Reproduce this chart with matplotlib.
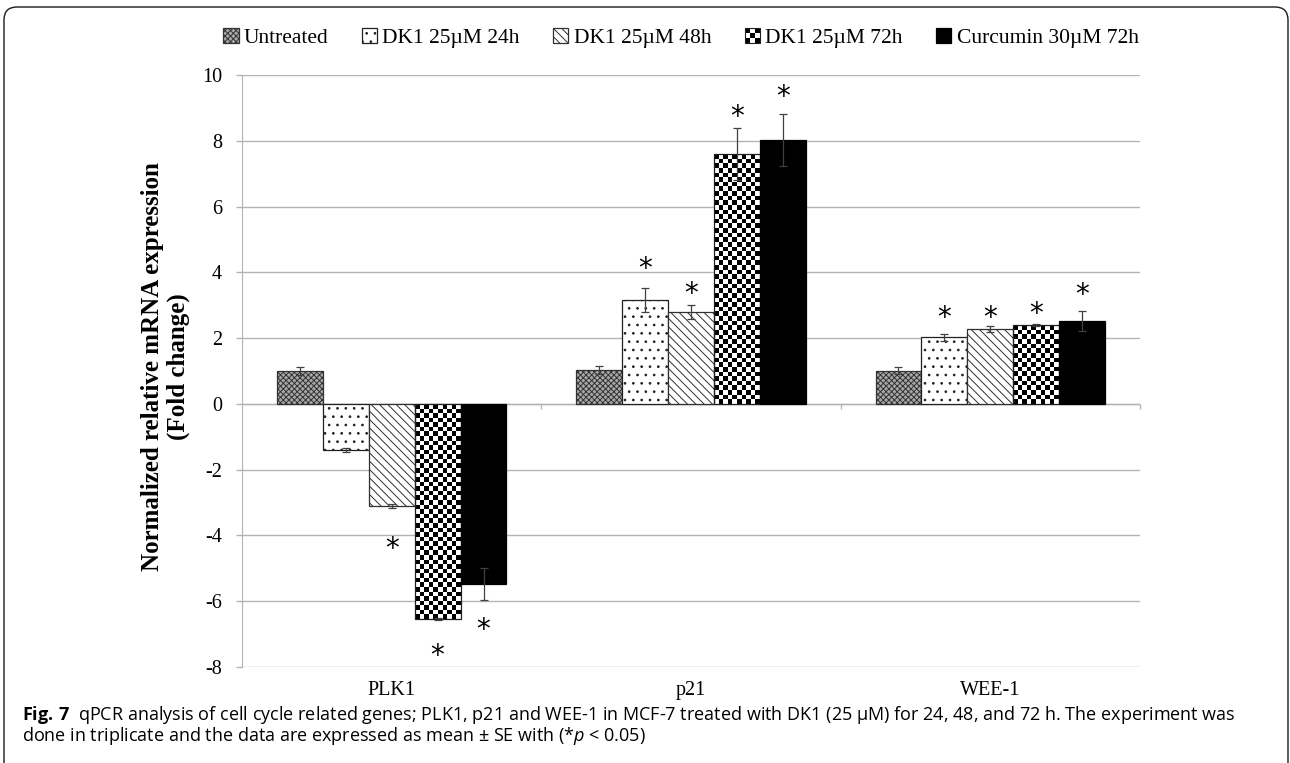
"""qPCR fold change of cell cycle genes (PLK1, p21, WEE-1) after DK1 treatment."""

import matplotlib.pyplot as plt
import numpy as np
from matplotlib.legend_handler import HandlerBase
from matplotlib.patches import FancyBboxPatch, Rectangle

plt.rcParams["font.family"] = ["Liberation Serif", "DejaVu Serif"]
plt.rcParams["hatch.linewidth"] = 0.7
plt.rcParams["mathtext.fontset"] = "custom"
plt.rcParams["mathtext.rm"] = "Open Sans"
plt.rcParams["mathtext.it"] = "Open Sans:italic"
plt.rcParams["mathtext.bf"] = "Open Sans:bold"

# data
genes = ["PLK1", "p21", "WEE-1"]
treatments = [
    "Untreated",
    "DK1 25µM 24h",
    "DK1 25µM 48h",
    "DK1 25µM 72h",
    "Curcumin 30µM 72h",
]

untreated = [1.00, 1.02, 1.01]
dk1_24h = [-1.40, 3.15, 2.02]
dk1_48h = [-3.10, 2.80, 2.27]
dk1_72h = [-6.53, 7.60, 2.40]
curcumin_72h = [-5.48, 8.02, 2.51]

untreated_se = [0.12, 0.12, 0.11]
dk1_24h_se = [0.07, 0.37, 0.11]
dk1_48h_se = [0.07, 0.22, 0.09]
dk1_72h_se = [0.03, 0.79, 0.03]
curcumin_72h_se = [0.49, 0.80, 0.30]

# where the significance asterisks sit (None = no asterisk)
untreated_star = [None, None, None]
dk1_24h_star = [None, 4.28, 2.77]
dk1_48h_star = [-4.24, 3.52, 2.77]
dk1_72h_star = [-7.50, 8.88, 2.91]
curcumin_72h_star = [-6.70, 9.49, 3.47]

y_ticks = [-8, -6, -4, -2, 0, 2, 4, 6, 8, 10]

caption_line1 = (r"$\mathbf{Fig.\,7}$  qPCR analysis of cell cycle related genes; PLK1, p21 and "
                 "WEE-1 in MCF-7 treated with DK1 (25 µM) for 24, 48, and 72 h. The experiment was")
caption_line2 = r"done in triplicate and the data are expressed as mean ± SE with (*$\mathit{p}$ < 0.05)"

series = [untreated, dk1_24h, dk1_48h, dk1_72h, curcumin_72h]
errors = [untreated_se, dk1_24h_se, dk1_48h_se, dk1_72h_se, curcumin_72h_se]
stars = [untreated_star, dk1_24h_star, dk1_48h_star, dk1_72h_star, curcumin_72h_star]

styles = [
    dict(facecolor="#a8a8a8", edgecolor="#333333", hatch="xxxxxx"),
    dict(facecolor="white", edgecolor="#202020", hatch=".."),
    dict(facecolor="white", edgecolor="#303030", hatch="\\\\\\\\"),
    dict(facecolor="none", edgecolor="#202020", hatch=None),  # checkerboard, drawn below
    dict(facecolor="black", edgecolor="black", hatch=None),
]
CHECKER = 3

GRID = "#b4b4b4"


class CheckerHandler(HandlerBase):
    """Small checkerboard square for the legend."""

    def create_artists(self, legend, orig_handle, xdescent, ydescent, width, height, fontsize, trans):
        side = min(width, height)
        x0 = -xdescent + (width - side) / 2
        y0 = -ydescent + (height - side) / 2
        n = 3
        cell = side / n
        artists = []
        for i in range(n):
            for j in range(n):
                color = "black" if (i + j) % 2 == 0 else "white"
                artists.append(Rectangle((x0 + j * cell, y0 + i * cell), cell, cell,
                                         facecolor=color, edgecolor="none", transform=trans))
        artists.append(Rectangle((x0, y0), side, side, facecolor="none",
                                 edgecolor="#202020", lw=0.8, transform=trans))
        return artists


def fill_checker(ax, bar, cell_px=4.6):
    """Paint a black/white checkerboard inside a bar."""
    x0, y0 = bar.get_x(), bar.get_y()
    w, h = bar.get_width(), bar.get_height()
    (px0, py0), (px1, py1) = ax.transData.transform([(x0, y0), (x0 + w, y0 + h)])
    nx = max(1, round(abs(px1 - px0) / cell_px))
    ny = max(1, round(abs(py1 - py0) / cell_px))
    board = np.indices((ny, nx)).sum(axis=0) % 2
    ax.imshow(board, cmap="gray", interpolation="nearest", aspect="auto",
              extent=(x0, x0 + w, y0, y0 + h), zorder=2.5)


fig = plt.figure(figsize=(12.9, 7.63), dpi=100)
ax = fig.add_axes([242 / 1290, 1 - 667 / 763, 898 / 1290, 592 / 763])

x = np.arange(len(genes))
n = len(series)
group = 0.767
width = group / n
ax.set_xlim(-0.5, len(genes) - 0.5)
ax.set_ylim(y_ticks[0], y_ticks[-1])

handles = []
for k, (vals, errs, style) in enumerate(zip(series, errors, styles)):
    offs = x - group / 2 + width * (k + 0.5)
    bars = ax.bar(offs, vals, width, linewidth=0.9, zorder=3, **style)
    ax.errorbar(offs, vals, yerr=errs, fmt="none", ecolor="#404040", elinewidth=0.9,
                capsize=2.6, capthick=0.9, zorder=4)
    if k == CHECKER:
        for b in bars:
            fill_checker(ax, b)
    handles.append(bars.patches[0])

ax.set_xlim(-0.5, len(genes) - 0.5)
ax.set_ylim(y_ticks[0], y_ticks[-1])

for k, star_vals in enumerate(stars):
    offs = x - group / 2 + width * (k + 0.5)
    for xo, sy in zip(offs, star_vals):
        if sy is not None:
            ax.annotate("*", (xo, sy), xytext=(0, -4), textcoords="offset points",
                        ha="center", va="center", fontsize=20, family="DejaVu Sans", zorder=5)

# axes styling, Excel-like
ax.set_yticks(y_ticks)
ax.set_yticklabels([str(v) for v in y_ticks])
ax.yaxis.grid(True, color=GRID, lw=1)
ax.set_axisbelow(True)
for side in ("top", "right", "bottom"):
    ax.spines[side].set_visible(False)
ax.spines["left"].set_color(GRID)
ax.tick_params(axis="y", length=4.3, width=1, color=GRID, pad=10, labelsize=14.5)
ax.set_xticks(x)
ax.set_xticklabels(genes)
ax.tick_params(axis="x", length=0, pad=10, labelsize=14.5)

ax.axhline(0, color=GRID, lw=1, zorder=2)
bounds = np.arange(len(genes) + 1) - 0.5
ax.vlines(bounds[1:], -0.15, 0, color=GRID, lw=1, zorder=2, clip_on=False)

ax.set_ylabel("Normalized relative mRNA expression\n(Fold change)", fontsize=18,
              fontweight="bold", linespacing=1.15)
ax.yaxis.set_label_coords(-0.058, 0.508)

ax.legend(handles, treatments, handler_map={handles[CHECKER]: CheckerHandler()},
          loc="center", bbox_to_anchor=(681 / 1290, 1 - 38 / 763), bbox_transform=fig.transFigure,
          ncol=n, frameon=False, fontsize=15.5, handlelength=0.7, handleheight=0.7,
          handletextpad=0.25, columnspacing=1.55)

# caption under the chart
fig.text(22 / 1290, 1 - 720 / 763, caption_line1, family="Open Sans", fontsize=13,
         ha="left", va="baseline")
fig.text(22 / 1290, 1 - 741 / 763, caption_line2, family="Open Sans", fontsize=13,
         ha="left", va="baseline")

# rounded frame, bottom edge runs off the page
frame = FancyBboxPatch((0.04, -0.3), 12.84, 7.86, boxstyle="round,pad=0,rounding_size=0.13",
                       transform=fig.dpi_scale_trans, fill=False, edgecolor="#1a1a1a", lw=1.0)
fig.add_artist(frame)

fig.savefig("out.png", dpi=100)
